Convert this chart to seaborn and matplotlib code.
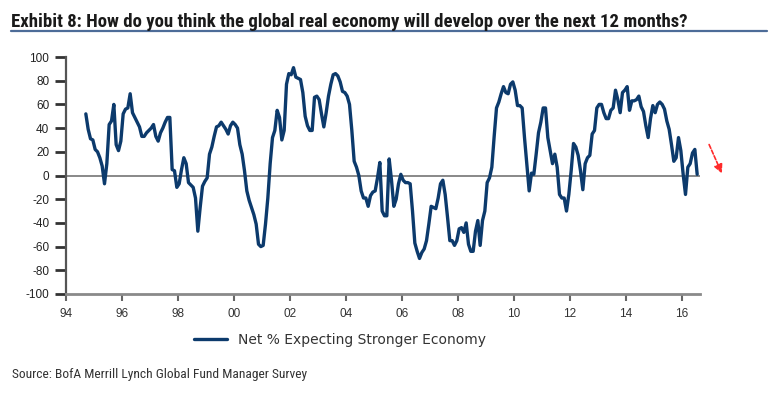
import numpy as np
import pandas as pd
import matplotlib
matplotlib.use("Agg")
import matplotlib.pyplot as plt
import seaborn as sns
from matplotlib.lines import Line2D
from matplotlib import font_manager

# ---------------- data ----------------
start_month = "1994-09"
end_month = "2016-07"
series_name = "Net % Expecting Stronger Economy"
net_pct = [
    52, 39, 31, 30, 22, 20, 15, 8, -7, 10, 43, 46, 60, 26, 21, 29,
    52, 56, 57, 69, 53, 49, 45, 41, 33, 33, 36, 38, 40, 43, 33, 29,
    36, 40, 45, 49, 49, 5, 4, -10, -7, 5, 15, 10, -6, -8, -10, -19,
    -47, -27, -9, -5, -2, 18, 24, 33, 41, 42, 45, 42, 39, 35, 42, 45,
    43, 40, 26, 18, 4, -13, -21, -27, -33, -41, -58, -60, -59, -41, -19, 10,
    32, 38, 55, 49, 30, 38, 77, 86, 85, 91, 83, 82, 81, 70, 50, 42,
    38, 38, 66, 67, 64, 52, 41, 53, 67, 77, 85, 86, 84, 79, 71, 70,
    67, 60, 38, 12, 7, 0, -13, -19, -19, -26, -17, -14, -13, -2, 11, -30,
    -34, -34, 14, -4, -26, -20, -7, 1, -4, -6, -6, -7, -30, -57, -64, -70,
    -65, -62, -55, -41, -26, -27, -28, -19, -7, -4, -16, -35, -55, -55, -59, -55,
    -45, -44, -48, -40, -58, -64, -64, -47, -38, -59, -38, -30, -6, -2, 7, 33,
    57, 62, 69, 75, 70, 69, 77, 79, 72, 59, 59, 57, 32, 10, -13, 2,
    1, 18, 36, 45, 57, 57, 32, 21, 10, 18, 7, -16, -19, -19, -30, -16,
    4, 27, 24, 17, 4, -12, 10, 15, 17, 35, 38, 57, 60, 60, 53, 48,
    48, 55, 57, 72, 64, 53, 70, 72, 75, 55, 63, 63, 64, 67, 58, 54,
    42, 32, 48, 59, 53, 60, 62, 60, 56, 46, 39, 26, 12, 15, 32, 21,
    1, -16, 7, 10, 19, 22, 1,
]
y_ticks = list(range(-100, 101, 20))
x_tick_years = list(range(1994, 2017, 2))
x_tick_labels = ["94", "96", "98", "00", "02", "04", "06", "08", "10", "12", "14", "16"]

title_text = "Exhibit 8: How do you think the global real economy will develop over the next 12 months?"
source_text = "Source: BofA Merrill Lynch Global Fund Manager Survey"

months = pd.period_range(start_month, end_month, freq="M")
df = pd.DataFrame({
    "year": months.year + (months.month - 0.5) / 12.0,
    "value": net_pct[:len(months)],
})

# ---------------- style ----------------
sns.set_theme(style="white")
plt.rcParams["font.family"] = ["Liberation Sans", "DejaVu Sans"]

# look for a narrow/condensed family if one is installed
installed = {f.name for f in font_manager.fontManager.ttflist}
narrow_family = "Liberation Sans"
for cand in ["Liberation Sans Narrow", "Roboto Condensed", "Open Sans Condensed",
             "DejaVu Sans Condensed", "Noto Sans Condensed"]:
    if cand in installed:
        narrow_family = cand
        break

W, H = 776, 399
fig = plt.figure(figsize=(W / 100, H / 100), dpi=100)
ax = fig.add_axes([66 / W, (H - 294) / H, (700 - 66) / W, (294 - 57) / H])

line_color = "#0c3a6c"
sns.lineplot(data=df, x="year", y="value", ax=ax, color=line_color, lw=2.4,
             label=series_name, legend=False)

ax.axhline(0, color="#7f7f7f", lw=1.3, zorder=1)
ax.set_xlim(1994.0, 1994 + (700 - 66) / 28.0)
ax.set_ylim(-100, 100)
ax.set_xlabel("")
ax.set_ylabel("")

ax.set_yticks(y_ticks)
ax.set_yticklabels([str(v) for v in y_ticks])
ax.set_xticks(x_tick_years)
ax.set_xticklabels(x_tick_labels)

for s in ["top", "right"]:
    ax.spines[s].set_visible(False)
ax.spines["left"].set_color("#555555")
ax.spines["left"].set_linewidth(1.6)
ax.spines["bottom"].set_color("#8a8a8a")
ax.spines["bottom"].set_linewidth(2.0)

ax.tick_params(axis="y", which="major", direction="out", length=8, width=2.0,
               color="#333333", labelsize=8.5, labelcolor="#222222", pad=4, left=True)
ax.tick_params(axis="x", which="major", direction="out", length=5, width=1.5,
               color="#666666", labelsize=8.5, labelcolor="#333333", pad=5, bottom=True)

# legend
handle = Line2D([0], [0], color=line_color, lw=2.4)
leg = ax.legend([handle], [series_name], loc="center", bbox_to_anchor=(0.432, -0.194),
                frameon=False, handlelength=2.4, handletextpad=0.8,
                prop={"family": "DejaVu Sans", "size": 10})
for t in leg.get_texts():
    t.set_color("#333333")

# title + rule
title = fig.text(11 / W, 1 - 27 / H, title_text, ha="left", va="baseline",
                 fontsize=13, fontweight="bold", color="#1a1a1a",
                 family=[narrow_family, "DejaVu Sans"])
fig.add_artist(Line2D([11 / W, 767 / W], [1 - 30.5 / H, 1 - 30.5 / H],
                      color="#4d6c98", lw=1.6))

# source
source = fig.text(12 / W, 1 - 378 / H, source_text, ha="left", va="baseline",
                  fontsize=9.5, color="#333333",
                  family=[narrow_family, "DejaVu Sans"])

# fit the title and source to the widths seen in the reference
renderer = fig.canvas.get_renderer()
for txt, target in [(title, 681.0), (source, 293.0)]:
    for _ in range(3):
        w = txt.get_window_extent(renderer=renderer).width
        txt.set_fontsize(txt.get_fontsize() * target / w)

# red arrow
ax.annotate("", xy=(723, H - 176), xytext=(708, H - 142),
            xycoords="figure pixels", textcoords="figure pixels",
            arrowprops=dict(arrowstyle="-|>", color="#ff2a2a", lw=1.2,
                            linestyle=(0, (2.5, 1.2)), mutation_scale=13),
            annotation_clip=False)

fig.savefig("out.png", dpi=100)
